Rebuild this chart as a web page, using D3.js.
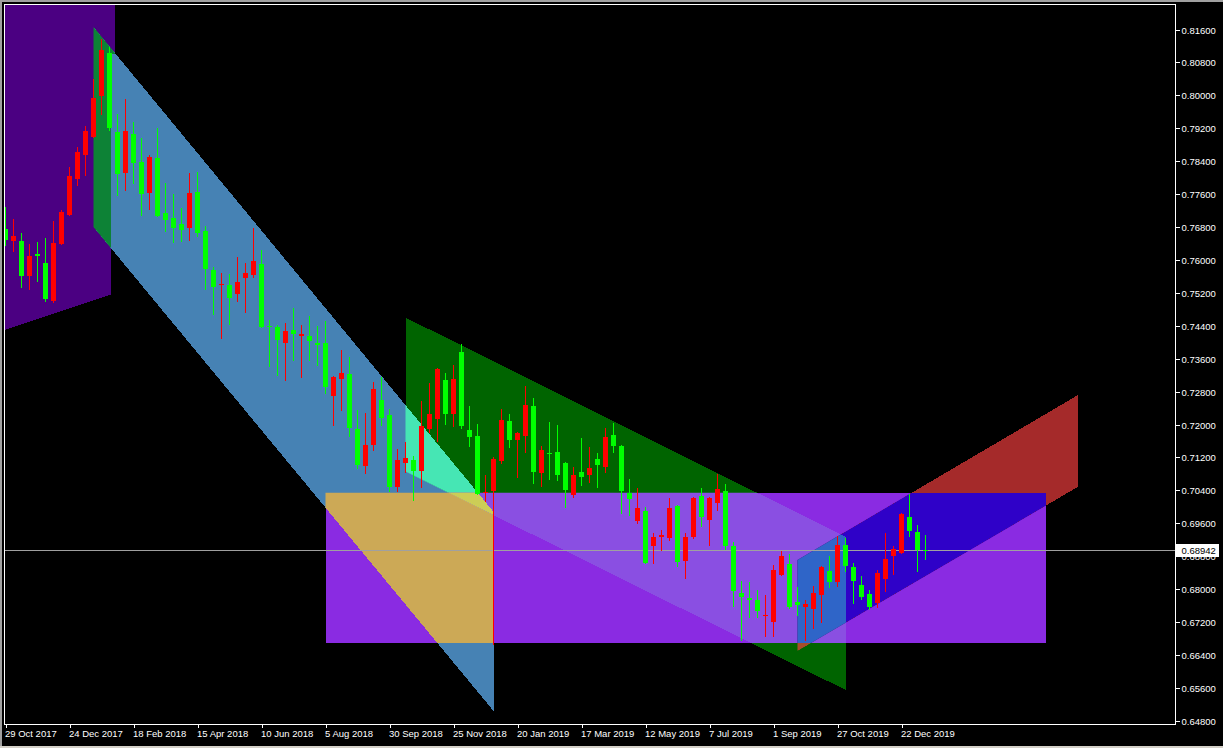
<!DOCTYPE html>
<html><head><meta charset="utf-8">
<script src="https://cdn.jsdelivr.net/npm/d3@7"></script>
<style>
html,body{margin:0;padding:0;background:#000;overflow:hidden}
svg{display:block}
text{font-family:"Liberation Sans",Arial,sans-serif;font-size:9.5px}
</style></head><body>
<svg id="chart" width="1223" height="748"></svg>
<script>
// ---- data (weekly candles, first bar = week of 29 Oct 2017) ----
const opens = [.7674,.7647,.7646,.7562,.7614,.7593,.7500,.7640,.7710,.7797,.7855,.7899,.7999,.8102,.7912,.7811,.7907,.7839,.7761,.7848,
.7714,.7703,.7687,.7678,.7766,.7671,.7576,.7539,.7539,.7517,.7557,.7563,.7590,.7440,.7436,.7399,.7430,.7416,.7415,.7398,
.7397,.7270,.7311,.7324,.7189,.7098,.7149,.7260,.7223,.7049,.7107,.7114,.7088,.7190,.7214,.7308,.7226,.7377,.7187,.7171,
.7034,.7039,.7112,.7209,.7164,.7173,.7245,.7083,.7131,.7133,.7107,.7029,.7085,.7077,.7116,.7098,.7175,.7148,.7034,.6966,
.6990,.6906,.6928,.6925,.7002,.6869,.6928,.7026,.6968,.7010,.7039,.6905,.6790,.6779,.6774,.6733,.6721,.6836,.6860,.6769,
.6757,.6752,.6784,.6844,.6818,.6907,.6853,.6810,.6788,.6766,.6825,.6879,.6889,.6975,.6939,.6895];
const highs = [.7729,.7700,.7665,.7639,.7644,.7653,.7695,.7721,.7827,.7875,.7926,.8039,.8136,.8118,.7955,.7990,.7936,.7896,.7855,.7920,
.7786,.7760,.7726,.7811,.7814,.7683,.7584,.7568,.7566,.7606,.7593,.7678,.7624,.7454,.7442,.7446,.7483,.7442,.7464,.7440,
.7452,.7318,.7381,.7363,.7235,.7227,.7304,.7315,.7238,.7140,.7158,.7124,.7258,.7300,.7338,.7326,.7345,.7395,.7245,.7201,
.7077,.7122,.7237,.7226,.7183,.7294,.7264,.7148,.7206,.7198,.7108,.7098,.7168,.7146,.7130,.7192,.7203,.7150,.7068,.7046,
.7000,.6936,.6944,.7022,.7005,.6936,.7023,.7045,.7025,.7080,.7056,.6915,.6820,.6818,.6798,.6786,.6859,.6893,.6885,.6805,
.6774,.6808,.6855,.6881,.6929,.6924,.6863,.6832,.6798,.6847,.6936,.6905,.6986,.7031,.6956,.6932];
const lows = [.7636,.7622,.7535,.7529,.7550,.7499,.7498,.7639,.7709,.7782,.7806,.7898,.7955,.7916,.7758,.7770,.7786,.7709,.7723,.7707,
.7671,.7644,.7647,.7648,.7657,.7529,.7469,.7411,.7444,.7501,.7474,.7559,.7437,.7342,.7320,.7308,.7357,.7316,.7357,.7345,
.7277,.7199,.7235,.7172,.7094,.7082,.7138,.7199,.7039,.7039,.7084,.7017,.7049,.7181,.7161,.7201,.7197,.7191,.7148,.7030,
.7013,.6667,.7106,.7145,.7073,.7134,.7059,.7051,.7068,.7065,.7000,.7025,.7053,.7061,.7049,.7085,.7134,.6984,.6980,.6960,
.6863,.6863,.6895,.6920,.6857,.6826,.6925,.6954,.6907,.6992,.6898,.6759,.6677,.6733,.6733,.6687,.6685,.6834,.6755,.6736,
.6677,.6706,.6721,.6806,.6808,.6845,.6767,.6776,.6751,.6757,.6796,.6836,.6888,.6928,.6845,.6873];
const closes = [.7647,.7658,.7562,.7610,.7608,.7506,.7641,.7717,.7805,.7863,.7913,.7994,.8110,.7920,.7811,.7913,.7836,.7761,.7849,.7708,
.7698,.7678,.7673,.7763,.7666,.7579,.7535,.7542,.7508,.7546,.7568,.7597,.7438,.7437,.7404,.7427,.7420,.7421,.7403,.7394,
.7291,.7316,.7325,.7192,.7102,.7150,.7286,.7217,.7049,.7114,.7119,.7088,.7197,.7226,.7335,.7226,.7311,.7197,.7171,.7031,
.7037,.7116,.7211,.7162,.7180,.7248,.7085,.7138,.7128,.7077,.7041,.7077,.7073,.7095,.7102,.7170,.7148,.7039,.7019,.6997,
.6864,.6927,.6932,.6997,.6867,.6927,.7022,.6976,.7022,.7043,.6905,.6796,.6780,.6775,.6748,.6736,.6847,.6881,.6756,.6762,
.6764,.6790,.6853,.6818,.6907,.6855,.6818,.6782,.6756,.6839,.6873,.6897,.6983,.6942,.6895,.68942];

const dateTickLabels = ["29 Oct 2017","24 Dec 2017","18 Feb 2018","15 Apr 2018","10 Jun 2018","5 Aug 2018","30 Sep 2018",
"25 Nov 2018","20 Jan 2019","17 Mar 2019","12 May 2019","7 Jul 2019","1 Sep 2019","27 Oct 2019","22 Dec 2019"];
const dateTickBars = [0,8,16,24,32,40,48,56,64,72,80,88,96,104,112];
const priceTicks = [0.648,0.656,0.664,0.672,0.680,0.688,0.696,0.704,0.712,0.720,0.728,0.736,0.744,0.752,0.760,0.768,0.776,0.784,0.792,0.800,0.808,0.816];
const bidPrice = 0.68942;

// drawing objects: [bar index, price]
const objIndigo = [[-3,0.8300],[13.7,0.8300],[13.7,0.8100],[13.2,0.8100],[13.2,0.7516],[-3,0.7411]];
const objBlueChannel = [[11,0.8166],[61,0.6988],[61,0.6504],[11,0.7680]];
const objGreenChannel = [[50,0.7460],[105,0.6927],[105,0.6555],[50,0.7086]];
const objPurpleRect = [[40,0.7034],[130,0.7034],[130,0.6669],[40,0.6669]];
const objBrownChannel = [[99,0.6871],[134,0.7271],[134,0.7048],[99,0.6650]];
const objColors = ["#4B0082","#4682B4","#006400","#8A2BE2","#A52A2A"];

// ---- layout ----
const svg = d3.select("#chart");
const W = 1223, H = 748;
const plot = {l:4.5, t:4.5, r:1175.5, b:724.5};
svg.append("rect").attr("width",W).attr("height",H).attr("fill","#000");

const x = d3.scaleLinear().domain([0,112]).range([5.5, 901.5]);
const y = d3.scaleLinear().domain([0.648,0.816]).range([720.8, 29.5]);

const defs = svg.append("defs");
defs.append("clipPath").attr("id","plotclip").append("rect")
  .attr("x",plot.l+0.5).attr("y",plot.t+0.5).attr("width",plot.r-plot.l-1).attr("height",plot.b-plot.t-1);

const line = d3.line().x(d=>x(d[0])).y(d=>y(d[1]));
const objects = [objIndigo,objBlueChannel,objGreenChannel,objPurpleRect,objBrownChannel];
objects.forEach((pts,k)=>{
  defs.append("clipPath").attr("id","obj"+k).append("path")
    .attr("d", line(pts)+"Z").attr("shape-rendering","crispEdges");
});

const pg = svg.append("g").attr("clip-path","url(#plotclip)");
const objG = pg.append("g");
// XOR-style overlap rendering (as the terminal paints background objects)
const n = objects.length;
const masks = d3.range(1, 1<<n).sort((a,b)=>{
  const pc = m=>d3.range(n).filter(k=>m&(1<<k)).length; return pc(a)-pc(b) || a-b;});
masks.forEach(m=>{
  const mem = d3.range(n).filter(k=>m&(1<<k));
  let r=0,g=0,b=0;
  mem.forEach(k=>{const c=d3.rgb(objColors[k]); r^=c.r; g^=c.g; b^=c.b;});
  let parent = objG;
  for (let j=1;j<mem.length;j++) parent = parent.append("g").attr("clip-path",`url(#obj${mem[j]})`);
  parent.append("path").attr("d", line(objects[mem[0]])+"Z")
    .attr("fill", d3.rgb(r,g,b).formatHex()).attr("shape-rendering","crispEdges");
});

// bid line
pg.append("line").attr("x1",plot.l).attr("x2",plot.r)
  .attr("y1",Math.round(y(bidPrice))+0.5).attr("y2",Math.round(y(bidPrice))+0.5)
  .attr("stroke","#a0a0a0").attr("stroke-width",1);

// candles
const candles = opens.map((o,i)=>({i,o,h:highs[i],l:lows[i],c:closes[i]}));
const col = d=> d.c>=d.o ? "#ff0000" : "#00ff00";
const cg = pg.append("g").attr("shape-rendering","crispEdges");
cg.selectAll("line").data(candles).join("line")
  .attr("x1",d=>x(d.i)).attr("x2",d=>x(d.i))
  .attr("y1",d=>y(d.h)).attr("y2",d=>y(d.l)+1)
  .attr("stroke",col).attr("stroke-width",1);
cg.selectAll("rect").data(candles).join("rect")
  .attr("x",d=>x(d.i)-2.5).attr("width",5)
  .attr("y",d=>Math.round(y(Math.max(d.o,d.c))))
  .attr("height",d=>Math.max(1, Math.round(Math.abs(y(d.o)-y(d.c)))))
  .attr("fill",col);

// frame
svg.append("rect").attr("x",plot.l).attr("y",plot.t).attr("width",plot.r-plot.l).attr("height",plot.b-plot.t)
  .attr("fill","none").attr("stroke","#fff").attr("stroke-width",1);
// outer window edges
svg.append("rect").attr("x",0).attr("y",0).attr("width",W).attr("height",2).attr("fill","#a0a0a0");
svg.append("rect").attr("x",0).attr("y",0).attr("width",2).attr("height",H).attr("fill","#a0a0a0");
svg.append("rect").attr("x",0).attr("y",H-2).attr("width",W).attr("height",2).attr("fill","#d4d0c8");

// price axis
const yAxis = d3.axisRight(y).tickValues(priceTicks).tickFormat(d3.format(".5f")).tickSize(4).tickPadding(2);
const ya = svg.append("g").attr("transform",`translate(${plot.r},0)`).call(yAxis);
ya.select(".domain").remove();
ya.selectAll(".tick line").attr("stroke","#fff").attr("shape-rendering","crispEdges");
ya.selectAll(".tick text").attr("fill","#fff").style("font-family",'"Liberation Sans",Arial,sans-serif').style("font-size","9.5px");
ya.selectAll(".tick").attr("transform",d=>`translate(0,${Math.round(y(d))+0.5})`);

// time axis
const xAxis = d3.axisBottom(x).tickValues(dateTickBars).tickFormat((d,k)=>dateTickLabels[k]).tickSize(3).tickPadding(3);
const xa = svg.append("g").attr("transform",`translate(0,${plot.b})`).call(xAxis);
xa.select(".domain").remove();
xa.selectAll(".tick line").attr("stroke","#fff").attr("shape-rendering","crispEdges");
xa.selectAll(".tick text").attr("fill","#fff").attr("text-anchor","start").attr("x",-1)
  .style("font-family",'"Liberation Sans",Arial,sans-serif').style("font-size","9.5px");

// bid price label
const by = Math.round(y(bidPrice))+0.5;
svg.append("rect").attr("x",plot.r+0.5).attr("y",by-6.5).attr("width",43).attr("height",13).attr("fill","#fff");
svg.append("text").attr("x",plot.r+6).attr("y",by).attr("dy","0.32em").attr("fill","#000")
  .text(d3.format(".5f")(bidPrice));
</script></body></html>
